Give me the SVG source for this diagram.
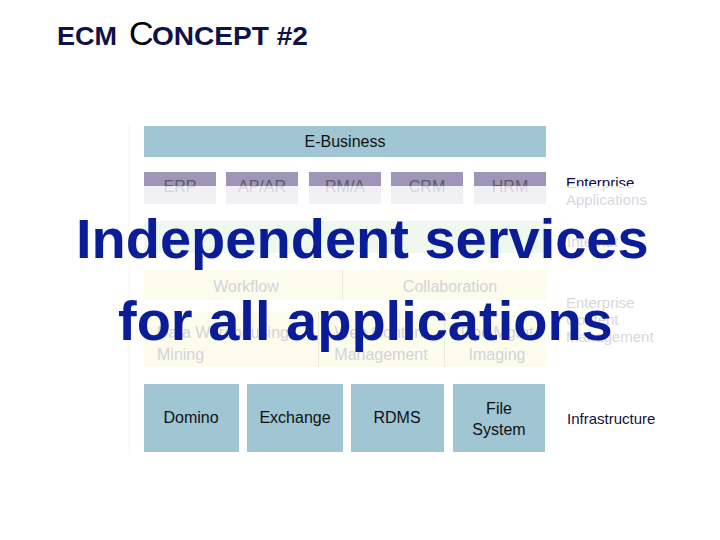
<svg xmlns="http://www.w3.org/2000/svg" width="720" height="540" viewBox="0 0 720 540">
<defs>
<style>
text{font-family:"Liberation Sans",Arial,sans-serif}
.blue{fill:#a0c5d3}
.dark{fill:#111;font-size:16px;text-anchor:middle}
.purple{fill:#9f95b9}
.pale{fill:#f1f0f5}
.app{font-size:16px;text-anchor:middle;fill:url(#splitApp)}
.yel{fill:#fcfcec}
.div{stroke:#ebebdc;stroke-width:1}
.fade{fill:#d3d3da;font-size:16px}
.side{font-size:15px;fill:#d7d7e0}
.big{font-size:56px;font-weight:bold;fill:#0b1c98}
.ttl{font-size:26px;font-weight:bold;fill:#10104a}
</style>
<linearGradient id="splitApp" gradientUnits="userSpaceOnUse" x1="0" y1="172" x2="0" y2="204">
<stop offset="0" stop-color="#5a5a68"/><stop offset="0.44" stop-color="#5a5a68"/>
<stop offset="0.44" stop-color="#d4d4da"/><stop offset="1" stop-color="#d4d4da"/>
</linearGradient>
<linearGradient id="splitEnt" gradientUnits="userSpaceOnUse" x1="0" y1="172" x2="0" y2="204">
<stop offset="0" stop-color="#10104a"/><stop offset="0.43" stop-color="#10104a"/>
<stop offset="0.43" stop-color="#d9d9e2"/><stop offset="1" stop-color="#d9d9e2"/>
</linearGradient>
</defs>
<rect width="720" height="540" fill="#fff"/>
<g id="title">
<text class="ttl" x="57" y="45" textLength="60" lengthAdjust="spacingAndGlyphs">ECM</text>
<text x="129" y="45" font-size="34" fill="#000">C</text>
<text class="ttl" x="152" y="45" textLength="156" lengthAdjust="spacingAndGlyphs">ONCEPT #2</text>
</g>
<line x1="129" y1="125" x2="129" y2="455" stroke="#f3f3f3" stroke-width="1"/>
<g id="ebusiness">
<rect class="blue" x="144" y="126" width="402" height="31"/>
<text class="dark" x="345" y="147">E-Business</text>
</g>
<g id="apps">
<g id="erp"><rect class="purple" x="144" y="172" width="72" height="14"/><rect class="pale" x="144" y="186" width="72" height="18"/><text class="app" x="180" y="192">ERP</text></g>
<g id="apar"><rect class="purple" x="226" y="172" width="72" height="14"/><rect class="pale" x="226" y="186" width="72" height="18"/><text class="app" x="262" y="192">AP/AR</text></g>
<g id="rma"><rect class="purple" x="309" y="172" width="72" height="14"/><rect class="pale" x="309" y="186" width="72" height="18"/><text class="app" x="345" y="192">RM/A</text></g>
<g id="crm"><rect class="purple" x="391" y="172" width="72" height="14"/><rect class="pale" x="391" y="186" width="72" height="18"/><text class="app" x="427" y="192">CRM</text></g>
<g id="hrm"><rect class="purple" x="474" y="172" width="72" height="14"/><rect class="pale" x="474" y="186" width="72" height="18"/><text class="app" x="510" y="192">HRM</text></g>
<g id="label-ea"><text x="566" y="188" font-size="15" fill="url(#splitEnt)">Enterprise</text><text class="side" x="566" y="205">Applications</text></g>
</g>
<g id="internet">
<rect x="144" y="221" width="402" height="32" fill="#eef8ee"/>
<text class="side" x="567" y="247">Internet</text>
</g>
<g id="ecm">
<rect class="yel" x="144" y="270" width="402" height="30"/>
<line class="div" x1="342.5" y1="270" x2="342.5" y2="300"/>
<text class="fade" x="246" y="292" text-anchor="middle">Workflow</text>
<text class="fade" x="450" y="292" text-anchor="middle">Collaboration</text>
<rect class="yel" x="144" y="312" width="402" height="55"/>
<line class="div" x1="318.5" y1="312" x2="318.5" y2="367"/>
<line class="div" x1="444.5" y1="312" x2="444.5" y2="367"/>
<text class="fade" x="157" y="338">Data Warehousing</text>
<text class="fade" x="157" y="360">Mining</text>
<text class="fade" x="381" y="338" text-anchor="middle">Web Content</text>
<text class="fade" x="381" y="360" text-anchor="middle">Management</text>
<text class="fade" x="497" y="338" text-anchor="middle">Doc Mgmt</text>
<text class="fade" x="497" y="360" text-anchor="middle">Imaging</text>
<text class="side" x="566" y="308">Enterprise</text>
<text class="side" x="566" y="325">Content</text>
<text class="side" x="566" y="342">Management</text>
</g>
<g id="infra">
<g id="domino"><rect class="blue" x="144" y="384" width="95" height="68"/><text class="dark" x="191" y="423">Domino</text></g>
<g id="exchange"><rect class="blue" x="247" y="384" width="96" height="68"/><text class="dark" x="295" y="423">Exchange</text></g>
<g id="rdms"><rect class="blue" x="351" y="384" width="93" height="68"/><text class="dark" x="397" y="423">RDMS</text></g>
<g id="filesystem"><rect class="blue" x="453" y="384" width="92" height="68"/><text class="dark" x="499" y="414">File</text><text class="dark" x="499" y="435">System</text></g>
<text x="567" y="424" font-size="15" fill="#111140">Infrastructure</text>
</g>
<g id="overlay">
<text class="big" x="76" y="258">Independent services</text>
<text class="big" x="118" y="340">for all applications</text>
</g>
</svg>
